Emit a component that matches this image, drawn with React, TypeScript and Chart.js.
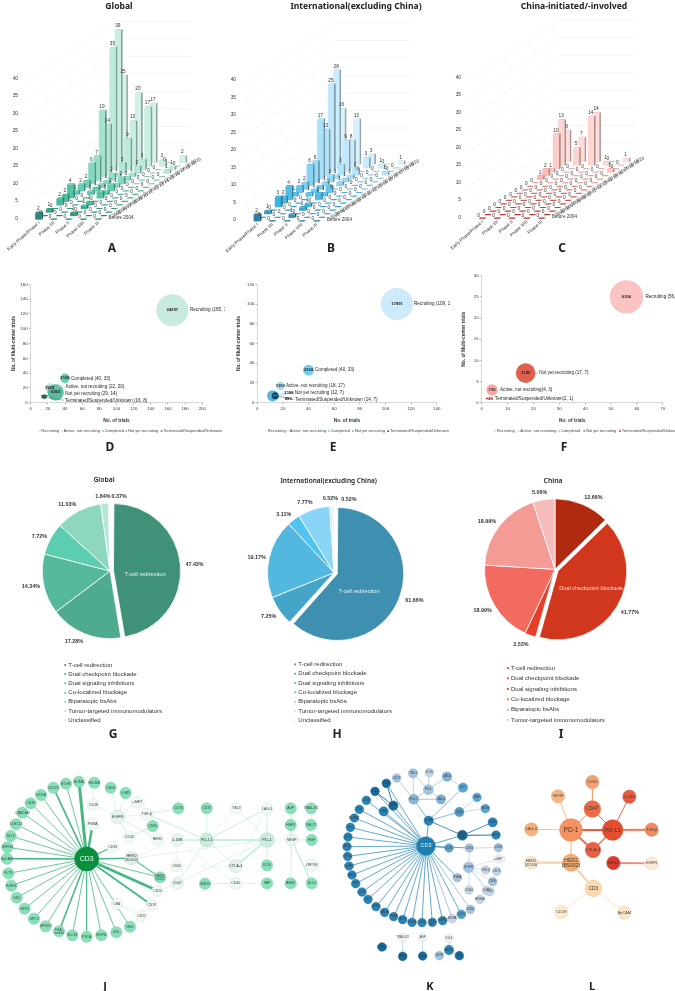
import React, { useEffect, useRef } from 'react';
import { Chart, registerables } from 'chart.js';
Chart.register(...registerables);
Chart.defaults.font.family = '"Liberation Sans", Arial, sans-serif';

// ---------- A/B/C : trials by phase and year
const phases = ['Early Phase/Phase I', 'Phase I/II', 'Phase II', 'Phase II/III', 'Phase III'];
const years = ['Before 2004', '2005', '2006', '2007', '2008', '2009', '2010', '2011', '2012', '2013', '2014', '2015', '2016', '2017', '2018', '2019', '2020'];
const globalEarly = [2, 0, 1, 0, 2, 2, 4, 1, 2, 2, 6, 7, 19, 14, 35, 39, 25];
const globalPhase12 = [0, 0, 0, 0, 0, 0, 0, 1, 1, 1, 1, 2, 1, 3, 9, 13, 20];
const globalPhase2 = [0, 1, 0, 1, 1, 0, 2, 1, 2, 1, 2, 1, 1, 2, 3, 17, 17];
const globalPhase23 = [0, 0, 0, 0, 0, 0, 0, 0, 0, 0, 0, 0, 0, 0, 0, 2, 0];
const globalPhase3 = [0, 0, 0, 0, 0, 0, 0, 0, 0, 0, 0, 0, 0, 1, 1, 0, 2];
const intlEarly = [2, 0, 1, 0, 3, 2, 4, 1, 2, 2, 6, 6, 17, 13, 25, 28, 16];
const intlPhase12 = [0, 0, 0, 0, 0, 0, 0, 1, 1, 1, 1, 2, 1, 3, 9, 8, 13];
const intlPhase2 = [0, 1, 0, 1, 1, 0, 2, 1, 2, 0, 1, 1, 1, 2, 0, 3, 3];
const intlPhase23 = [0, 0, 0, 0, 0, 0, 0, 0, 0, 0, 0, 0, 0, 0, 0, 1, 0];
const intlPhase3 = [0, 0, 0, 0, 0, 0, 0, 0, 0, 0, 0, 0, 0, 1, 0, 0, 1];
const cnEarly = [0, 0, 0, 0, 0, 0, 0, 0, 0, 0, 0, 1, 2, 1, 10, 13, 9];
const cnPhase12 = [0, 0, 0, 0, 0, 0, 0, 0, 0, 0, 0, 0, 0, 0, 0, 5, 7];
const cnPhase2 = [0, 0, 0, 0, 0, 0, 0, 0, 0, 0, 0, 0, 0, 0, 0, 14, 14];
const cnPhase23 = [0, 0, 0, 0, 0, 0, 0, 0, 0, 0, 0, 0, 0, 0, 0, 1, 0];
const cnPhase3 = [0, 0, 0, 0, 0, 0, 0, 0, 0, 0, 0, 0, 0, 1, 0, 0, 1];
const greenStops = ['#2b8a74', '#41bb9c', '#63cdb1', '#a5e3d0', '#d3f1e8'];
const blueStops = ['#2a7ea6', '#3db4e0', '#62c6ee', '#a9e0f8', '#d6f0fc'];
const redStops = ['#c9302c', '#e8504a', '#f48a84', '#fdbcb8', '#ffdcd9'];

// ---------- D/E/F : trial status bubbles
const statuses = ['Recruiting', 'Active, not recruiting', 'Completed', 'Not yet recruiting', 'Terminated/Suspended/Unknown'];
const dTrials = [165, 22, 40, 29, 16];
const dMulti = [125, 20, 33, 14, 8];
const dPatients = [24297, 1968, 2126, 6363, 587];
const eTrials = [109, 18, 40, 12, 14];
const eMulti = [100, 17, 33, 7, 7];
const ePatients = [17891, 1103, 2106, 2188, 886];
const fTrials = [56, 4, null, 17, 2];
const fMulti = [25, 3, null, 7, 1];
const fPatients = [6306, 730, null, 2185, 21];

// ---------- G/H/I : mechanism shares
const mechanisms = ['T-cell redirection', 'Dual checkpoint blockade', 'Dual signaling inhibitions', 'Co-localized blockage', 'Biparatopic bsAbs', 'Tumor-targeted immunomodulators', 'Unclassified'];
const gShares = [47.43, 17.28, 14.34, 7.72, 11.03, 1.84, 0.37];
const hShares = [61.66, 7.25, 19.17, 3.11, 7.77, 0.52, 0.52];
const iShares = [12.66, 41.77, 2.53, 18.99, 18.99, 5.06];

// ---------- J/K/L : target networks  [name, x, y, radius, tone]
type N = [string, number, number, number, string];
type E = [string, string, number, string?];
const JG = '#86e0b9', JW = '#f1f9f5', JM = '#c9ecdc', JC = '#0b8f3e';
const jLeafNames: N[] = [
  ['BCMA', 237, 125, 17, JG], ['B7-H3', 198, 131, 17, JG], ['CD123', 160, 143, 17, JG], ['GCGB', 123, 165, 17, JG], ['CD33', 92, 190, 17, JG],
  ['CEACAM', 67, 218, 17, JG], ['CLEC12', 48, 253, 17, JG], ['DLL3', 32, 288, 17, JG], ['GSPG4', 22, 322, 17, JG], ['EpCAM', 21, 356, 17, JG],
  ['FLT3', 25, 400, 17, JG], ['FcRH5', 34, 437, 17, JG], ['GD2', 50, 473, 17, JG], ['GPC2', 74, 506, 17, JG], ['GPC3', 102, 536, 17, JG],
  ['GPRCD', 137, 559, 17, JG], ['HLA-\nrestrict', 177, 574, 17, JG], ['SLC18', 217, 586, 17, JG], ['PSCA', 260, 590, 17, JG], ['SSTR2', 304, 586, 17, JG],
  ['STn', 349, 577, 17, JG], ['HSG', 390, 560, 17, JG],
  ['CD22', 425, 528, 17, JW], ['CD19', 455, 495, 17, JW], ['CEA', 350, 492, 17, JW], ['CD20', 473, 452, 17, JW],
  ['HER3\n(SOD)', 480, 412, 17, JG], ['HER2\n(SOD2)', 395, 355, 20, '#dff2e9'], ['CD33b', 338, 321, 17, JW], ['PSMA', 278, 253, 18, JW],
];
const jOtherNodes: N[] = [
  ['CD3', 260, 357, 36, JC],
  ['CD28', 280, 194, 18, JW], ['HS-SIM', 283, 128, 17, JG], ['CD64', 332, 143, 17, JG], ['LGR5', 377, 159, 17, JG], ['c-MET', 412, 186, 18, JW],
  ['EGFR', 353, 231, 21, '#e2f4eb'], ['TGF-β', 440, 222, 18, JW], ['CD73', 535, 205, 17, JG], ['CD90', 458, 258, 17, JG], ['CD16', 388, 291, 18, JW],
  ['HER3', 472, 298, 18, JW], ['4-1BB', 532, 300, 19, '#e6f5ee'], ['PD-L1', 620, 300, 21, JM], ['CD47', 532, 430, 18, '#e6f5ee'], ['OX40', 530, 378, 17, JW],
  ['CTLA-4', 707, 378, 20, '#e2f4eb'], ['CD40', 707, 430, 18, JW], ['MSLN', 615, 431, 17, JG], ['FAP', 801, 430, 17, JG], ['ICOS', 801, 376, 17, JG],
  ['PD-1', 801, 300, 22, JM], ['LAG-3', 801, 206, 18, JW], ['TIM-3', 709, 204, 17, JW], ['CD37', 620, 205, 17, JG], ['AGF', 872, 205, 17, JG],
  ['HGF2', 872, 255, 17, JG], ['VEGF', 875, 300, 18, '#e6f5ee'], ['ANG2', 872, 430, 17, JG], ['TRAIL-R2', 933, 205, 17, JG], ['GM-17', 933, 255, 17, JG],
  ['HGF', 935, 300, 17, JG], ['LRP5/6', 935, 375, 18, JW], ['DLL4', 935, 430, 17, JG],
];
const jNodes: N[] = [...jOtherNodes, ...jLeafNames];
const jHubWeights: [string, number][] = [['BCMA', 3], ['CD123', 1.7], ['PSMA', 2.4], ['EpCAM', 1.7], ['CD20', 2.8], ['CD19', 1.8], ['HLA-\nrestrict', 1.6], ['HER2\n(SOD2)', 1.5], ['CD33b', 1.3], ['PSCA', 1.2], ['B7-H3', 0.8]];
const jPale: E[] = [
  ['HS-SIM', 'CD28', 0.6], ['CD64', 'EGFR', 0.7], ['LGR5', 'EGFR', 0.7], ['c-MET', 'EGFR', 0.7], ['CD28', 'EGFR', 0.6], ['EGFR', 'TGF-β', 0.6], ['EGFR', 'CD16', 0.8], ['EGFR', 'HER3', 0.8],
  ['TGF-β', 'CD73', 0.8], ['TGF-β', 'PD-L1', 1], ['CD90', 'CD16', 1], ['HER2\n(SOD2)', 'HER3\n(SOD)', 1.6, '#79d3aa'], ['HER2\n(SOD2)', '4-1BB', 0.5], ['HER2\n(SOD2)', 'PD-1', 0.6],
  ['4-1BB', 'PD-L1', 1.4], ['PD-L1', 'PD-1', 2], ['4-1BB', 'OX40', 0.5], ['4-1BB', 'CD40', 0.5], ['PD-L1', 'CD37', 0.7], ['PD-L1', 'TIM-3', 0.6], ['PD-L1', 'LAG-3', 1], ['TIM-3', 'PD-1', 0.6],
  ['LAG-3', 'PD-1', 1], ['LAG-3', 'CTLA-4', 0.5], ['PD-L1', 'CTLA-4', 0.7], ['PD-1', 'CTLA-4', 1.8], ['PD-1', 'ICOS', 0.9], ['OX40', 'CTLA-4', 0.4], ['PD-L1', 'CD47', 0.7], ['PD-1', 'CD47', 0.7],
  ['CD20', 'CD47', 0.5], ['MSLN', 'CD40', 0.7], ['CD40', 'FAP', 0.7], ['CEA', 'CD22', 0.6], ['CD22', 'HSG', 0.5], ['PD-1', 'VEGF', 0.6], ['VEGF', 'DLL4', 1.4], ['VEGF', 'HGF', 0.8], ['VEGF', 'AGF', 0.8], ['VEGF', 'HGF2', 0.8], ['VEGF', 'ANG2', 0.8],
  ['TRAIL-R2', 'GM-17', 0.8],
];

const KD = '#176a99', KM = '#2884b6', KB = '#4f9fcc', KL = '#a4c3de', KP = '#c6d4e7', KW = '#eef1f6';
const kRing: N[] = [
  ['CD33', 289, 130, 13, KD], ['CLL1', 255, 154, 13, KD], ['CD38', 229, 181, 13, KM], ['CD4', 208, 208, 13, KM], ['BCMA2', 193, 234, 13, KM], ['DLL3', 181, 262, 13, KM],
  ['FLT3', 174, 291, 13, KM], ['GPC3', 171, 320, 13, KM], ['GPRC', 173, 349, 13, KM], ['FcRH5', 177, 378, 13, KM], ['MUC1', 186, 405, 13, KM], ['GD2', 197, 431, 13, KM],
  ['CD70', 216, 456, 13, KM], ['CD7', 234, 478, 13, KM], ['B7H3', 258, 500, 13, KM], ['MAGE', 284, 517, 13, KM], ['PLAP', 311, 530, 13, KM], ['GPC2', 338, 539, 13, KM],
  ['SLC39', 366, 547, 13, KM], ['CD22', 396, 548, 13, KM], ['HLA-\nA02', 427, 547, 13, KM], ['EGFR2', 458, 542, 13, KM], ['BCMA', 487, 536, 13, KP], ['CD123', 514, 523, 13, KB], ['CD20', 541, 508, 13, KL],
  ['GBA', 281, 214, 14, KM], ['IL3R', 310, 197, 14, KD],
];
const kNodes: N[] = [
  ['CD3', 408, 318, 28, '#1f7fae'],
  ...kRing,
  ['CD27', 320, 114, 13, KL], ['TIM-3', 369, 100, 14, KL], ['ICOS', 418, 98, 13, KP], ['LAG-3b', 471, 110, 14, '#7fb0d5'], ['PD-1', 415, 149, 15, KL], ['PD-L1', 371, 178, 15, '#8db6d6'],
  ['LAG-3', 453, 178, 14, '#7fb0d5'], ['IDO', 519, 143, 14, '#5aa4d0'], ['4-1BB', 416, 242, 14, KM], ['FAP', 561, 172, 13, '#5aa4d0'], ['CD40', 508, 216, 14, '#4f9fcc'],
  ['MSLN', 586, 206, 13, '#5aa4d0'], ['HER2\nSOD', 517, 286, 15, KD], ['HGF', 608, 247, 14, KM], ['HER3', 618, 285, 13, KM], ['CD33b', 477, 324, 13, '#5aa4d0'], ['CD16', 538, 324, 13, KL],
  ['CD28', 625, 323, 13, KL], ['c-MET', 625, 357, 13, KW], ['EGFR', 536, 382, 16, KL], ['TGF-β', 587, 390, 13, KP], ['CD73', 620, 394, 13, KP], ['PSMA', 502, 413, 13, KL],
  ['CD64', 537, 450, 13, KP], ['LGR5', 590, 452, 13, KP], ['HS/SIM', 570, 478, 13, KP], ['CD90', 608, 425, 13, KL], ['CD5', 600, 455, 13, KP],
  ['LRP5/6', 276, 621, 13, KD], ['TRAIL-R2', 338, 593, 13, KW], ['GM17', 338, 649, 13, KD], ['AGF', 398, 593, 13, KW], ['VEGF', 398, 648, 13, KD], ['DLL4', 477, 596, 13, KW],
  ['NEDD', 477, 630, 14, KM], ['SSTR', 448, 647, 13, KL], ['DLL', 508, 647, 13, KD],
];
const kBlue: E[] = [
  ['CD27', 'PD-L1', 1], ['TIM-3', 'PD-1', 0.9], ['TIM-3', 'PD-L1', 0.9], ['ICOS', 'PD-1', 0.9], ['LAG-3b', 'PD-1', 0.9], ['PD-1', 'PD-L1', 1], ['PD-1', 'LAG-3', 1], ['PD-L1', 'LAG-3', 1.2], ['LAG-3b', 'IDO', 0.8],
  ['IDO', '4-1BB', 0.8, '#6aa8d0'], ['PD-L1', '4-1BB', 0.8, '#6aa8d0'], ['4-1BB', 'CD40', 0.8, '#6aa8d0'], ['CD40', 'FAP', 0.7], ['CD40', 'MSLN', 0.7], ['4-1BB', 'HER2\nSOD', 0.9, '#2d86b8'], ['HER2\nSOD', 'HGF', 0.9, '#2d86b8'],
  ['HER2\nSOD', 'HER3', 1.2, '#2d86b8'], ['CD16', 'CD28', 0.8], ['CD16', 'EGFR', 0.8], ['EGFR', 'TGF-β', 0.6], ['EGFR', 'CD64', 0.6], ['EGFR', 'LGR5', 0.6], ['EGFR', 'CD90', 0.6], ['EGFR', 'CD5', 0.6], ['EGFR', 'c-MET', 0.5],
  ['CD33', 'IL3R', 0.9, '#1f6f9f'], ['CLL1', 'IL3R', 0.9, '#1f6f9f'], ['TRAIL-R2', 'GM17', 0.8], ['AGF', 'VEGF', 0.8], ['DLL4', 'NEDD', 0.8], ['NEDD', 'SSTR', 0.8], ['NEDD', 'DLL', 0.8],
];
const kHubExtras = ['4-1BB', 'HER2\nSOD', 'CD33b', 'CD16', 'PSMA'];

const lNodes: N[] = [
  ['PD-1', 243, 270, 34, '#f5925f'], ['PD-L1', 368, 270, 31, '#e64d2f'], ['CD47', 307, 207, 25, '#ee6a45'], ['CD20', 307, 126, 20, '#f5a273'], ['VEGF', 204, 169, 20, '#f8b683'],
  ['4-1BB', 418, 170, 20, '#ea5a40'], ['LAG-3', 124, 268, 20, '#f8b07a'], ['TGF-β', 485, 269, 20, '#f08a60'], ['CTLA-4', 309, 330, 23, '#ea6040'], ['HER2\n(BS002)', 243, 368, 26, '#f5aa70'],
  ['HER3', 370, 369, 20, '#d93a2a'], ['EGFR', 485, 370, 20, '#fbe9d6'], ['HER2\n(ZO24)', 123, 368, 20, '#f6e8d0'], ['CD3', 310, 445, 25, '#fcd9ae'], ['CD19', 214, 516, 20, '#fcebd0'], ['EpCAM', 403, 518, 20, '#fce6c8'],
];
const lEdges: E[] = [
  ['PD-1', 'PD-L1', 2, '#ee5a3a'], ['PD-1', 'CD47', 1, '#f59a70'], ['PD-L1', 'CD47', 1, '#ee6a45'], ['CD47', 'CD20', 1, '#f18a5c'], ['PD-1', 'VEGF', 1, '#f9bd90'], ['PD-L1', '4-1BB', 1, '#ee6a45'],
  ['PD-1', 'LAG-3', 0.9, '#f9b78a'], ['PD-L1', 'TGF-β', 2, '#f07a55'], ['PD-1', 'CTLA-4', 2, '#ee6f4c'], ['PD-L1', 'CTLA-4', 1.2, '#ee6a45'], ['PD-1', 'HER2\n(BS002)', 1.1, '#f7b98a'],
  ['HER3', 'EGFR', 1.8, '#f08a78'], ['HER2\n(BS002)', 'HER2\n(ZO24)', 2.6, '#fbd7ae'], ['HER2\n(BS002)', 'CD3', 1.5, '#f8c48f'], ['CD3', 'CD19', 0.9, '#fce0bf'], ['CD3', 'EpCAM', 0.9, '#fce0bf'],
];

// ---------- helpers
const hexToRgb = (h: string) => [1, 3, 5].map((i) => parseInt(h.slice(i, i + 2), 16));
const mix = (a: string, b: string, f: number) => {
  const A = hexToRgb(a), B = hexToRgb(b);
  return `rgb(${A.map((v, i) => Math.round(v + (B[i] - v) * f)).join(',')})`;
};
const rampColor = (stops: string[], f: number) => {
  const s = f * (stops.length - 1);
  const i = Math.min(Math.floor(s), stops.length - 2);
  return mix(stops[i], stops[i + 1], s - i);
};
const darken = (c: string, k: number) => {
  const v = c.match(/\d+/g)!.map(Number);
  return `rgb(${v.slice(0, 3).map((x) => Math.round(x * k)).join(',')})`;
};
const text = (ctx: any, s: string, x: number, y: number, font: string, color: string, align: CanvasTextAlign = 'center', rot = 0) => {
  ctx.save();
  ctx.translate(x, y);
  if (rot) ctx.rotate(rot);
  ctx.font = `${font} "Liberation Sans", Arial, sans-serif`;
  ctx.fillStyle = color;
  ctx.textAlign = align;
  ctx.textBaseline = 'middle';
  ctx.fillText(s, 0, 0);
  ctx.restore();
};

// ---------- 3D bars
const PHASE_STEP = 14.8, YEAR_STEP = 5.3, LIFT = 1.01, CANVAS_H = 260;
function bars3d(grid: number[][], stops: string[], y0: number, xFront: number, axisW: number, canvasW = 225) {
  const cells: { x: number; y: [number, number]; v: number; t: number }[] = [];
  for (let t = 16; t >= 0; t--) for (let p = 4; p >= 0; p--) {
    const l = -0.4 + t * LIFT;
    cells.push({ x: p * PHASE_STEP + t * YEAR_STEP, y: [l, l + grid[p][t]], v: grid[p][t], t });
  }
  const colors = cells.map((c) => rampColor(stops, c.t / 16));
  return {
    type: 'bar',
    data: { datasets: [{ data: cells.map((c) => ({ x: c.x, y: c.y })), backgroundColor: colors, barThickness: 6.2, clip: false }] },
    options: {
      animation: false, responsive: false, events: [],
      layout: { padding: { top: y0 - 210, bottom: CANVAS_H - (y0 + 17.5), left: 0, right: 0 } },
      plugins: { legend: { display: false }, tooltip: { enabled: false } },
      scales: {
        x: { type: 'linear', display: false, min: axisW - xFront, max: canvasW - xFront, offset: false },
        y: {
          min: -5, max: 60, grid: { display: false }, border: { display: false },
          ticks: { stepSize: 5, autoSkip: false, padding: 4, color: '#333', font: { size: 4.8 }, callback: (v: number) => (v >= 0 && v <= 40 ? String(v) : '') },
          afterFit: (s: any) => { s.width = axisW; },
        },
      },
    },
    plugins: [{
      id: 'box3d',
      afterDatasetUpdate(chart: any, args: any) {
        args.meta.data.forEach((el: any, i: number) => {
          el.draw = (ctx: any) => {
            const w = 6.2, dx = 1.7, dy = -1.2, L = el.x - w / 2, R = el.x + w / 2, top = el.y, base = el.base, col = colors[i], zero = cells[i].v === 0;
            ctx.save();
            ctx.fillStyle = darken(col, 0.68);
            ctx.beginPath(); ctx.moveTo(R, top); ctx.lineTo(R + dx, top + dy); ctx.lineTo(R + dx, base + dy); ctx.lineTo(R, base); ctx.closePath(); ctx.fill();
            ctx.fillStyle = zero ? darken(col, 0.88) : darken(col, 0.94);
            ctx.beginPath(); ctx.moveTo(L, top); ctx.lineTo(L + dx, top + dy); ctx.lineTo(R + dx, top + dy); ctx.lineTo(R, top); ctx.closePath(); ctx.fill();
            ctx.fillStyle = col;
            ctx.fillRect(L, top, w, base - top);
            ctx.restore();
          };
        });
      },
      beforeDatasetsDraw(chart: any) {
        const { ctx, scales: { x, y } } = chart;
        ctx.save(); ctx.strokeStyle = '#efefef'; ctx.lineWidth = 0.6;
        for (let v = 0; v <= 40; v += 5) {
          const bx = -0.6 * PHASE_STEP, l0 = -0.9 + v, l1 = 16.1 * LIFT + v;
          ctx.beginPath();
          ctx.moveTo(x.getPixelForValue(bx - 0.5 * YEAR_STEP), y.getPixelForValue(l0));
          ctx.lineTo(x.getPixelForValue(bx + 16.5 * YEAR_STEP), y.getPixelForValue(l1));
          ctx.lineTo(x.getPixelForValue(bx + 5 * PHASE_STEP + 16.5 * YEAR_STEP), y.getPixelForValue(l1));
          ctx.stroke();
        }
        ctx.restore();
      },
      afterDatasetsDraw(chart: any) {
        const { ctx, scales: { x, y } } = chart;
        const meta = chart.getDatasetMeta(0);
        meta.data.forEach((el: any, i: number) => text(ctx, String(cells[i].v), el.x + (cells[i].v ? 0 : -3), el.y - (cells[i].v ? 4 : 3), '4.8px', '#333'));
        const y0Px = y.getPixelForValue(0);
        phases.forEach((ph, p) => text(ctx, ph, x.getPixelForValue(p * PHASE_STEP) + 1, y0Px + 4, '4.6px', '#333', 'right', -0.72));
        years.forEach((yr, t) => {
          const px = x.getPixelForValue(4 * PHASE_STEP + t * YEAR_STEP) + (t ? 9 : 11);
          const py = y.getPixelForValue(-0.4 + t * LIFT) + (t ? 0 : -2);
          text(ctx, yr, px, py, '4.6px', '#333', 'left', t ? -0.4 : 0);
        });
      },
    }],
  };
}

// ---------- bubbles
type BubbleSpec = {
  trials: (number | null)[]; multi: (number | null)[]; pats: (number | null)[]; k: number; colors: string[]; xMax: number; xStep: number; yMax: number; yStep: number;
  left: number; right: number; top: number; names: string[]; labelOff: [number, number][]; valOff: [number, number][]; legendX: number[]; legendColors: string[]; canvasLeft: number;
};
function bubble(s: BubbleSpec) {
  const W = 225, H = 180, bottom = 132.7, xh = 21;
  const order = [0, 1, 2, 3, 4];
  return {
    type: 'bubble',
    data: {
      datasets: order.map((i) => ({
        label: statuses[i],
        order: 4 - i,
        data: s.trials[i] == null ? [] : [{ x: s.trials[i], y: s.multi[i], r: s.k * Math.sqrt(s.pats[i] as number) }],
        backgroundColor: s.colors[i], borderWidth: 0, clip: false,
      })),
    },
    options: {
      animation: false, responsive: false, events: [],
      layout: { autoPadding: false, padding: { left: 11, right: W - (s.right - s.canvasLeft), top: s.top, bottom: H - bottom - xh } },
      plugins: { legend: { display: false }, tooltip: { enabled: false } },
      scales: {
        x: {
          min: 0, max: s.xMax, grid: { drawOnChartArea: false, tickLength: 2, color: '#bbb' }, border: { color: '#bbb', width: 0.6 },
          ticks: { stepSize: s.xStep, autoSkip: false, maxRotation: 0, padding: 1, color: '#333', font: { size: 4.4 } },
          title: { display: true, text: 'No. of trials', color: '#333', font: { size: 4.8, weight: 'bold' }, padding: 0 },
          afterFit: (a: any) => { a.height = xh; },
        },
        y: {
          min: 0, max: s.yMax, grid: { drawOnChartArea: false, tickLength: 2, color: '#bbb' }, border: { color: '#bbb', width: 0.6 },
          ticks: { stepSize: s.yStep, autoSkip: false, padding: 1, color: '#333', font: { size: 4.4 } },
          title: { display: true, text: 'No. of Multi-center trials', color: '#333', font: { size: 4.8, weight: 'bold' }, padding: 0 },
          afterFit: (a: any) => { a.width = s.left - s.canvasLeft - 11; },
        },
      },
    },
    plugins: [{
      id: 'bubbleNotes',
      afterDatasetsDraw(chart: any) {
        const { ctx } = chart;
        order.forEach((i) => {
          const el = chart.getDatasetMeta(i).data[0];
          if (!el) return;
          const [lx, ly] = s.labelOff[i], [vx, vy] = s.valOff[i];
          if (vx || vy || lx > 12) {
            ctx.save(); ctx.strokeStyle = s.colors[i]; ctx.lineWidth = 0.5; ctx.beginPath();
            ctx.moveTo(el.x, el.y); ctx.lineTo(el.x + lx - 1, el.y + ly);
            if (i > 0) ctx.stroke();
            ctx.restore();
          }
          text(ctx, String(s.pats[i]), el.x + vx, el.y + vy, 'bold 4.2px', '#222');
          text(ctx, s.names[i], el.x + lx, el.y + ly, '4.6px', '#222', 'left');
        });
        statuses.forEach((st, i) => {
          const x = s.legendX[i];
          ctx.fillStyle = s.legendColors[i];
          ctx.fillRect(x - 2.6, 160.3, 1.6, 1.6);
          text(ctx, st, x, 161.2, '4px', '#444', 'left');
        });
      },
    }],
  };
}

// ---------- pies
type PieSpec = {
  shares: number[]; colors: string[]; cx: number; cy: number; r: number; exploded: number; centerLabel: string; centerX: number; centerY: number; centerColor: string;
  nudges: [number, number][]; legendColors: string[]; legendX: number; legendY: number[]; canvasLeft: number;
};
function pie(s: PieSpec) {
  const W = 225, H = 270, canvasTop = 460, half = 80;
  const offs = s.shares.map((_, i) => (i === s.exploded ? 14 : 0));
  return {
    type: 'pie',
    data: { labels: mechanisms.slice(0, s.shares.length), datasets: [{ data: s.shares, backgroundColor: s.colors, borderColor: '#fff', borderWidth: 0.8, offset: offs }] },
    options: {
      animation: false, responsive: false, events: [], radius: s.r,
      layout: { padding: { left: s.cx - s.canvasLeft - half, right: W - (s.cx - s.canvasLeft + half), top: s.cy - canvasTop - half, bottom: H - (s.cy - canvasTop + half) } },
      plugins: { legend: { display: false }, tooltip: { enabled: false } },
    },
    plugins: [{
      id: 'pieNotes',
      afterDatasetUpdate(chart: any, args: any) {
        const el = args.meta.data[s.exploded];
        if (el) el.outerRadius = s.r - 3.5;
      },
      afterDatasetsDraw(chart: any) {
        const { ctx } = chart;
        const meta = chart.getDatasetMeta(0);
        ctx.save();
        ctx.font = 'bold 5.4px "Liberation Sans", Arial, sans-serif';
        meta.data.forEach((el: any, i: number) => {
          const mid = (el.startAngle + el.endAngle) / 2;
          const lbl = `${s.shares[i].toFixed(2)}%`;
          const tw = ctx.measureText(lbl).width;
          const c = Math.cos(mid), n = Math.sin(mid);
          const R = s.r + 7 + Math.abs(c) * tw / 2 + (i === s.exploded ? 4 : 0);
          text(ctx, lbl, el.x + c * R + s.nudges[i][0], el.y + n * R + s.nudges[i][1], 'bold 5.4px', '#333');
        });
        ctx.restore();
        text(ctx, s.centerLabel, s.centerX - s.canvasLeft, s.centerY - canvasTop, '5.6px', s.centerColor);
        mechanisms.slice(0, s.shares.length).forEach((m, i) => {
          const y = s.legendY[i] - canvasTop;
          ctx.fillStyle = s.legendColors[i];
          ctx.fillRect(s.legendX - s.canvasLeft - 4, y - 0.9, 1.8, 1.8);
          text(ctx, m, s.legendX - s.canvasLeft, y, '6px', '#333', 'left');
        });
      },
    }],
  };
}

// ---------- network
function network(nodes: N[], edges: E[], w: number, h: number, edgeColor: string, loops: string[], hubLabelColor: string) {
  const byName = new Map(nodes.map((n) => [n[0], n]));
  return {
    type: 'bubble',
    data: { datasets: [{ data: nodes.map((n) => ({ x: n[1], y: n[2], r: n[3] / 3 })), backgroundColor: nodes.map((n) => n[4]), borderColor: nodes.map((n) => darken(mixToRgb(n[4]), 0.9)), borderWidth: 0.5, clip: false }] },
    options: {
      animation: false, responsive: false, events: [],
      layout: { padding: 0, autoPadding: false },
      plugins: { legend: { display: false }, tooltip: { enabled: false } },
      scales: { x: { display: false, min: 0, max: w * 3 }, y: { display: false, min: 0, max: h * 3, reverse: true } },
    },
    plugins: [{
      id: 'links',
      beforeDatasetsDraw(chart: any) {
        const { ctx, scales: { x, y } } = chart;
        ctx.save();
        edges.forEach(([a, b, wd, col]) => {
          const A = byName.get(a), B = byName.get(b);
          if (!A || !B) return;
          ctx.strokeStyle = col || edgeColor; ctx.lineWidth = wd;
          ctx.beginPath(); ctx.moveTo(x.getPixelForValue(A[1]), y.getPixelForValue(A[2])); ctx.lineTo(x.getPixelForValue(B[1]), y.getPixelForValue(B[2])); ctx.stroke();
        });
        loops.forEach((nm) => {
          const A = byName.get(nm);
          if (!A) return;
          ctx.strokeStyle = edgeColor; ctx.lineWidth = 0.6;
          ctx.beginPath(); ctx.arc(x.getPixelForValue(A[1]) + A[3] / 3, y.getPixelForValue(A[2]), 2.4, 0, Math.PI * 2); ctx.stroke();
        });
        ctx.restore();
      },
      afterDatasetsDraw(chart: any) {
        const { ctx } = chart;
        chart.getDatasetMeta(0).data.forEach((el: any, i: number) => {
          const nm = nodes[i][0].replace(/b$/, '');
          const r = nodes[i][3] / 3;
          const hub = nm === 'CD3' && r > 8;
          const fs = Math.max(2.9, r * 0.58);
          const lines = nm.split('\n');
          lines.forEach((ln, k) => text(ctx, ln, el.x, el.y + (k - (lines.length - 1) / 2) * fs, `${fs.toFixed(1)}px`, hub ? hubLabelColor : '#3a3a3a'));
        });
      },
    }],
  };
}
function mixToRgb(h: string) { return mix(h, h, 0); }

// ---------- assembled specs
const greenPie = ['#3f9279', '#4fab90', '#55b89c', '#5ccdb0', '#8dd7c0', '#b5e6d8', '#d6f2ea'];
const bluePie = ['#3f8fb0', '#45a5c8', '#52b8e0', '#50c4ef', '#8ad4f5', '#b8e6fa', '#d8f2fd'];
const redPie = ['#b02a12', '#d0371d', '#e63e28', '#f26b60', '#f59b95', '#f6bcb9'];
const jEdges: E[] = [
  ...jLeafNames.filter((n) => n[0] !== 'CD22' && n[0] !== 'CEA').map((n): E => {
    const found = jHubWeights.find((w) => w[0] === n[0]);
    return ['CD3', n[0], found ? found[1] : 0.8, '#45b982'];
  }),
  ['CD3', 'CEA', 0.6, '#a9e4c6'],
  ...jPale,
];
const kEdges: E[] = [
  ...kRing.map((n): E => ['CD3', n[0], 0.8, n[4] === KP || n[4] === KL ? '#8fb7d6' : '#3c93c2']),
  ...kHubExtras.map((n): E => ['CD3', n, 0.9, '#4a9cc9']),
  ...kBlue,
];

const panels: { left: number; top: number; width: number; height: number; cfg: () => any }[] = [
  { left: 0, top: 0, width: 225, height: CANVAS_H, cfg: () => bars3d([globalEarly, globalPhase12, globalPhase2, globalPhase23, globalPhase3], greenStops, 218.3, 38.3, 30) },
  { left: 225, top: 0, width: 225, height: CANVAS_H, cfg: () => bars3d([intlEarly, intlPhase12, intlPhase2, intlPhase23, intlPhase3], blueStops, 220, 31.7, 23) },
  { left: 450, top: 0, width: 225, height: CANVAS_H, cfg: () => bars3d([cnEarly, cnPhase12, cnPhase2, cnPhase23, cnPhase3], redStops, 217.3, 31.7, 23) },
  {
    left: 0, top: 270, width: 225, height: 180, cfg: () => bubble({
      trials: dTrials, multi: dMulti, pats: dPatients, k: 0.1026, colors: ['#c9eadf', '#bfe8da', '#66cdb0', '#5cb89f', '#3d8c76'], xMax: 200, xStep: 20, yMax: 160, yStep: 20,
      left: 30.7, right: 202.3, top: 14.3, canvasLeft: 0,
      names: ['Recruiting (165, 125)', 'Active, not recruiting (22, 20)', 'Completed (40, 33)', 'Not yet recruiting (29, 14)', 'Terminated/Suspended/Unknown (16, 8)'],
      labelOff: [[17.7, 0], [16, -1.6], [6, 0.4], [9.7, 1], [20.6, 3.5]], valOff: [[0, 0], [0, 0], [0, 0], [0, 0], [0, 0]],
      legendX: [41.3, 63.7, 104.7, 128, 163.3], legendColors: ['#c9eadf', '#bfe8da', '#66cdb0', '#5cb89f', '#3d8c76'],
    }),
  },
  {
    left: 225, top: 270, width: 225, height: 180, cfg: () => bubble({
      trials: eTrials, multi: eMulti, pats: ePatients, k: 0.1196, colors: ['#cdeafa', '#a8dcf2', '#6fd0f2', '#5eb5d8', '#0e4a78'], xMax: 140, xStep: 20, yMax: 120, yStep: 20,
      left: 257.3, right: 436.7, top: 14.3, canvasLeft: 225,
      names: ['Recruiting (109, 100)', 'Active, not recruiting (18, 17)', 'Completed (40, 33)', 'Not yet recruiting (12, 7)', 'Terminated/Suspended/Unknown (14, 7)'],
      labelOff: [[17, 0], [5.6, 0], [6.5, 0], [22, -3], [20, 3.5]], valOff: [[0, 0], [0, 0], [0, 0], [16.3, -3], [13, 3.5]],
      legendX: [42.7, 64.7, 105.7, 129.7, 165], legendColors: ['#cdeafa', '#a8dcf2', '#6fd0f2', '#5eb5d8', '#0e4a78'],
    }),
  },
  {
    left: 450, top: 270, width: 225, height: 180, cfg: () => bubble({
      trials: fTrials, multi: fMulti, pats: fPatients, k: 0.21, colors: ['#f9c4c1', '#f7a8a2', '#f8a07a', '#e0604e', '#c8202a'], xMax: 70, xStep: 10, yMax: 30, yStep: 5,
      left: 481.7, right: 662.7, top: 5.7, canvasLeft: 450,
      names: ['Recruiting (56, 25)', 'Active, not recruiting(4, 3)', '', 'Not yet recruiting (17, 7)', 'Terminated/Suspended/Unknown(2, 1)'],
      labelOff: [[19, 0], [8, 0], [0, 0], [13.6, 0], [8, 0.5]], valOff: [[0, 0], [0, 0], [0, 0], [0, 0], [3.8, 0.5]],
      legendX: [46.7, 70.3, 111, 136, 171.7], legendColors: ['#f9c4c1', '#f7b9b4', '#f6a58a', '#e0604e', '#c8202a'],
    }),
  },
  {
    left: 0, top: 460, width: 225, height: 270, cfg: () => pie({
      shares: gShares, colors: greenPie, cx: 110, cy: 571, r: 67.7, exploded: 0, centerLabel: 'T-cell redirection', centerX: 145, centerY: 574.3, centerColor: '#e8f6f1',
      nudges: [[-3, 1], [-7, -2], [3, -1], [1, 4], [-6, 3], [-1, 1], [10, 0]], legendColors: greenPie, legendX: 68.3, legendY: [665, 674, 683.3, 692.7, 701.7, 711, 720], canvasLeft: 0,
    }),
  },
  {
    left: 225, top: 460, width: 225, height: 270, cfg: () => pie({
      shares: hShares, colors: bluePie, cx: 334, cy: 572.7, r: 66.5, exploded: 0, centerLabel: 'T-cell redirection', centerX: 359, centerY: 591.3, centerColor: '#e3f2f8',
      nudges: [[0, -3], [0, -2], [3, 3], [-3, 4], [-6, 2], [0, 0], [16, 0]], legendColors: bluePie, legendX: 298.3, legendY: [664.3, 673.7, 683, 692.3, 701.7, 711, 720], canvasLeft: 225,
    }),
  },
  {
    left: 450, top: 460, width: 225, height: 270, cfg: () => pie({
      shares: iShares, colors: redPie, cx: 555, cy: 569.3, r: 70.5, exploded: 1, centerLabel: 'Dual checkpoint blockade', centerX: 591, centerY: 588, centerColor: '#f9d8cf',
      nudges: [[7, 3], [-2, -2], [-6, 0], [1, -2], [-1, 4], [-3, 1]], legendColors: ['#d83a28', '#e0412c', '#e0412c', '#f26b60', '#f59b95', '#f6bcb9'], legendX: 511, legendY: [668, 678.3, 689, 699.3, 709.7, 720], canvasLeft: 450,
    }),
  },
  { left: 0, top: 740, width: 325, height: 251, cfg: () => network(jNodes, jEdges, 325, 251, '#c8efdc', ['c-MET', 'LRP5/6'], '#eafff3') },
  { left: 290, top: 740, width: 230, height: 251, cfg: () => network(kNodes, kEdges, 230, 251, '#b6cfe3', ['c-MET', 'LRP5/6'], '#e8f4fa') },
  { left: 490, top: 740, width: 185, height: 251, cfg: () => network(lNodes, lEdges, 185, 251, '#f9c9a0', [], '#333') },
];

const captions: { s: string; x: number; y: number; size: number; weight: number }[] = [
  { s: 'Global', x: 119, y: 5.5, size: 8.6, weight: 700 },
  { s: 'International(excluding China)', x: 356, y: 5.5, size: 8.6, weight: 700 },
  { s: 'China-initiated/-involved', x: 574, y: 5.5, size: 8.6, weight: 700 },
  { s: 'A', x: 112, y: 247, size: 12, weight: 700 }, { s: 'B', x: 331, y: 247, size: 12, weight: 700 }, { s: 'C', x: 562, y: 247, size: 12, weight: 700 },
  { s: 'D', x: 110, y: 446, size: 12, weight: 700 }, { s: 'E', x: 333, y: 446, size: 12, weight: 700 }, { s: 'F', x: 564, y: 446, size: 12, weight: 700 },
  { s: 'Global', x: 104, y: 478.7, size: 6.8, weight: 600 }, { s: 'International(excluding China)', x: 328.7, y: 480, size: 6.5, weight: 600 }, { s: 'China', x: 553, y: 480, size: 6.8, weight: 600 },
  { s: 'G', x: 113, y: 733, size: 12, weight: 700 }, { s: 'H', x: 337, y: 733, size: 12, weight: 700 }, { s: 'I', x: 561, y: 733, size: 12, weight: 700 },
  { s: 'J', x: 105, y: 985, size: 11, weight: 700 }, { s: 'K', x: 430, y: 985, size: 11, weight: 700 }, { s: 'L', x: 592, y: 985, size: 11, weight: 700 },
];

function Panel({ left, top, width, height, cfg }: any) {
  const ref = useRef<HTMLCanvasElement>(null);
  useEffect(() => {
    const c = new Chart(ref.current as any, cfg());
    return () => c.destroy();
  }, []);
  return <canvas ref={ref} width={width} height={height} style={{ position: 'absolute', left, top, width, height }} />;
}

export default function App() {
  return (
    <div style={{ position: 'absolute', left: 0, top: 0, width: 675, height: 991, background: '#fff', overflow: 'hidden' }}>
      {panels.map((p, i) => <Panel key={i} {...p} />)}
      {captions.map((c, i) => (
        <div key={i} style={{ position: 'absolute', left: c.x, top: c.y, transform: 'translate(-50%,-50%)', whiteSpace: 'nowrap', font: `${c.weight} ${c.size}px "Noto Sans", sans-serif`, color: '#222', pointerEvents: 'none' }}>{c.s}</div>
      ))}
    </div>
  );
}
